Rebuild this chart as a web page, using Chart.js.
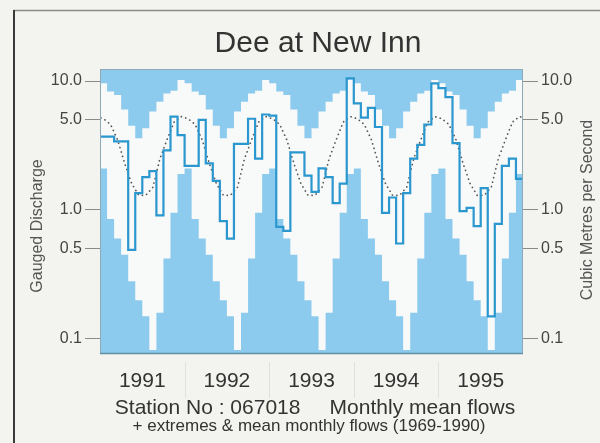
<!DOCTYPE html>
<html>
<head>
<meta charset="utf-8">
<script src="https://cdn.jsdelivr.net/npm/chart.js@4.4.1/dist/chart.umd.min.js"></script>
<style>
html,body{margin:0;padding:0;background:#f3f3ef;}
#wrap{width:600px;height:443px;position:relative;}
</style>
</head>
<body>
<div id="wrap"><canvas id="c" width="600" height="443"></canvas></div>
<script>
// Year labels along the time axis
const years = ['1991', '1992', '1993', '1994', '1995'];

// Monthly mean flows, Jan 1991 .. Dec 1995 (m3/s)
const flows1991 = [3.7, 3.7, 3.4, 3.4, 0.49, 1.35, 1.8, 2.0, 0.91, 2.9, 5.3, 3.8];
const flows1992 = [2.2, 2.2, 5.0, 2.3, 1.68, 0.82, 0.6, 3.25, 3.25, 5.1, 2.5, 5.5];
const flows1993 = [5.4, 0.74, 0.69, 2.8, 2.8, 1.85, 1.38, 2.1, 1.8, 1.13, 1.6, 10.5];
const flows1994 = [6.7, 5.2, 6.2, 4.4, 0.95, 1.25, 0.55, 1.35, 2.5, 3.2, 4.6, 9.6];
const flows1995 = [8.8, 7.5, 3.3, 0.98, 1.04, 0.75, 1.48, 0.15, 0.78, 2.2, 2.5, 1.74];

// Period-of-record (1969-1990) monthly statistics, Jan..Dec
const maxMonthly  = [9.6, 8.3, 7.8, 6.0, 4.5, 3.6, 4.3, 5.8, 6.9, 8.0, 8.4, 10.2];
const minMonthly  = [2.1, 0.85, 0.6, 0.45, 0.28, 0.2, 0.15, 0.082, 0.16, 0.42, 0.95, 1.9];
const meanMonthly = [5.1, 4.6, 3.5, 2.3, 1.6, 1.3, 1.3, 1.5, 2.5, 3.5, 4.8, 5.3];

// Discharge axis ticks
const yTicks = [0.1, 0.5, 1, 5, 10];

const FONT = "'Liberation Sans', Arial, Helvetica, sans-serif";
Chart.defaults.font.family = FONT;

const flows = [].concat(flows1991, flows1992, flows1993, flows1994, flows1995);
const nMonths = flows.length;

// Each month spans [i, i+1] on the x scale; a closing point ends the last step
function stepPoints(vals) {
  const pts = vals.map((v, i) => ({x: i, y: v}));
  pts.push({x: vals.length, y: vals[vals.length - 1]});
  return pts;
}
function repeatMonthly(vals) {
  return Array.from({length: nMonths}, (_, i) => vals[i % 12]);
}
// Long-term mean joined at mid-month, running one month past each end
const meanPoints = [];
for (let i = -1; i <= nMonths; i++) {
  meanPoints.push({x: i + 0.5, y: meanMonthly[(i + 12) % 12]});
}

const BLUE = '#8dcbee';

const decor = {
  id: 'decor',
  beforeDraw(chart) {
    const ctx = chart.ctx;
    ctx.save();
    ctx.fillStyle = '#f3f3ef';
    ctx.fillRect(0, 0, chart.width, chart.height);
    // page frame
    ctx.strokeStyle = '#8a8a8a';
    ctx.lineWidth = 1.5;
    ctx.beginPath();
    ctx.moveTo(13, 10.5); ctx.lineTo(600, 10.5);
    ctx.stroke();
    ctx.strokeStyle = '#3a3a3a';
    ctx.lineWidth = 2;
    ctx.beginPath();
    ctx.moveTo(14, 10); ctx.lineTo(14, 443);
    ctx.stroke();
    ctx.restore();
  },
  beforeDatasetsDraw(chart) {
    const {ctx, chartArea: a} = chart;
    ctx.save();
    ctx.fillStyle = BLUE;
    ctx.fillRect(a.left, a.top, a.right - a.left, a.bottom - a.top);
    ctx.restore();
  },
  afterDatasetsDraw(chart) {
    const {ctx, chartArea: a} = chart;
    ctx.save();
    ctx.strokeStyle = '#8fa9b6';
    ctx.lineWidth = 1;
    ctx.strokeRect(a.left + 0.5, a.top + 0.5, a.right - a.left - 1, a.bottom - a.top - 1);
    ctx.strokeStyle = '#5f8ea5';
    ctx.lineWidth = 1.5;
    ctx.beginPath();
    ctx.moveTo(a.left, a.bottom - 0.5); ctx.lineTo(a.right, a.bottom - 0.5);
    ctx.stroke();
    ctx.restore();
  },
  afterDraw(chart) {
    const ctx = chart.ctx;
    const xs = chart.scales.x;
    ctx.save();
    // faint dividers between the year labels
    ctx.strokeStyle = '#e0e0dc';
    ctx.lineWidth = 1;
    for (let k = 1; k < years.length; k++) {
      const px = Math.round(xs.getPixelForValue(12 * k)) + 0.5;
      ctx.beginPath();
      ctx.moveTo(px, 362); ctx.lineTo(px, 398);
      ctx.stroke();
    }
    // axis titles
    ctx.fillStyle = '#555';
    ctx.font = '16px ' + FONT;
    ctx.textAlign = 'center';
    ctx.textBaseline = 'middle';
    ctx.save();
    ctx.translate(38, 226);
    ctx.rotate(-Math.PI / 2);
    ctx.fillText('Gauged Discharge', 0, 0);
    ctx.restore();
    ctx.save();
    ctx.translate(588, 210);
    ctx.rotate(-Math.PI / 2);
    ctx.fillText('Cubic Metres per Second', 0, 0);
    ctx.restore();
    // station caption
    ctx.fillStyle = '#333';
    ctx.font = '21px ' + FONT;
    ctx.fillText('Station No : 067018     Monthly mean flows', 315, 408);
    ctx.font = '17px ' + FONT;
    ctx.fillText('+ extremes & mean monthly flows (1969-1990)', 309, 426);
    ctx.restore();
  }
};

function logAxis(position, width) {
  return {
    type: 'logarithmic',
    position: position,
    min: 0.0765,
    max: 12.39,
    grid: {drawOnChartArea: false, drawTicks: true, tickLength: 15, color: '#8a8a8a', lineWidth: 1},
    border: {display: false},
    afterBuildTicks: s => { s.ticks = yTicks.map(v => ({value: v})); },
    ticks: {
      padding: 3,
      color: '#444',
      font: {size: 16},
      autoSkip: false,
      callback: v => Number(v).toFixed(1)
    },
    afterFit: s => { s.width = width; }
  };
}

new Chart(document.getElementById('c'), {
  type: 'line',
  data: {
    datasets: [
      {
        label: 'Monthly mean flow',
        data: stepPoints(flows),
        stepped: true,
        borderColor: '#2a97cf',
        borderWidth: 2.2,
        pointRadius: 0,
        fill: false,
        order: 0
      },
      {
        label: 'Mean monthly flow 1969-1990',
        data: meanPoints,
        borderColor: '#555',
        borderWidth: 1.7,
        borderDash: [0.1, 4.5],
        borderCapStyle: 'round',
        pointRadius: 0,
        fill: false,
        order: 1
      },
      {
        label: 'Minimum 1969-1990',
        data: stepPoints(repeatMonthly(minMonthly)),
        stepped: true,
        borderColor: 'rgba(0,0,0,0)',
        borderWidth: 1,
        pointRadius: 0,
        backgroundColor: BLUE,
        fill: 'start',
        order: 2
      },
      {
        label: 'Maximum 1969-1990',
        data: stepPoints(repeatMonthly(maxMonthly)),
        stepped: true,
        borderColor: 'rgba(0,0,0,0)',
        borderWidth: 1,
        pointRadius: 0,
        backgroundColor: '#f8f9f9',
        fill: 'start',
        order: 3
      }
    ]
  },
  options: {
    responsive: false,
    animation: false,
    devicePixelRatio: 1,
    layout: {padding: {left: 36, right: 0, top: 0, bottom: 0}},
    plugins: {
      legend: {display: false},
      tooltip: {enabled: false},
      title: {
        display: true,
        text: 'Dee at New Inn',
        color: '#333',
        font: {size: 30, weight: 'normal'},
        padding: {top: 25.5, bottom: 7.5}
      }
    },
    scales: {
      x: {
        type: 'linear',
        min: 0,
        max: nMonths,
        grid: {display: false, drawTicks: false},
        border: {display: false},
        afterBuildTicks: s => { s.ticks = years.map((_, i) => ({value: 12 * i + 6})); },
        ticks: {
          autoSkip: false,
          maxRotation: 0,
          padding: 15,
          color: '#333',
          font: {size: 21},
          callback: (v, i) => years[i]
        },
        afterFit: s => { s.height = 89; }
      },
      y: logAxis('left', 64),
      y2: logAxis('right', 77)
    }
  },
  plugins: [decor]
});
</script>
</body>
</html>
